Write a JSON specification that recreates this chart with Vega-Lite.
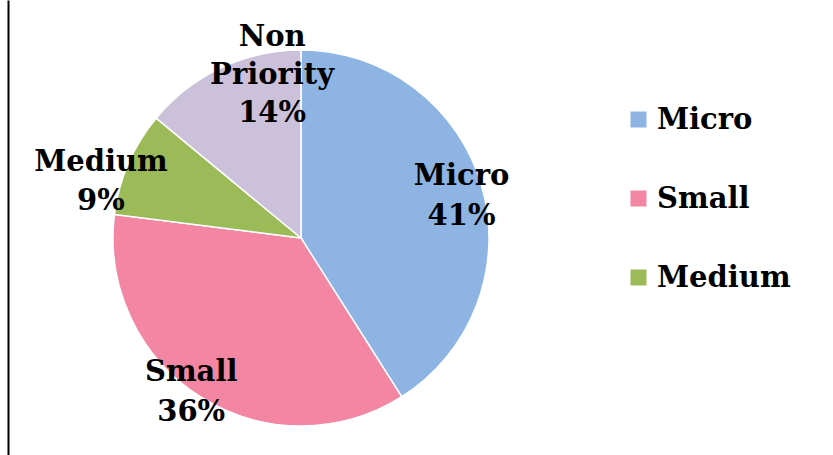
{
  "$schema": "https://vega.github.io/schema/vega-lite/v6.json",
  "width": 586,
  "height": 434,
  "autosize": {"type": "none"},
  "padding": {"left": 8, "top": 21, "right": 239, "bottom": 0},
  "background": "white",
  "data": {
    "values": [
      {"category": "Micro", "value": 41},
      {"category": "Small", "value": 36},
      {"category": "Medium", "value": 9},
      {"category": "Non Priority", "value": 14}
    ]
  },
  "transform": [
    {"calculate": "indexof(['Micro','Small','Medium','Non Priority'], datum.category)", "as": "ord"},
    {"stack": "value", "groupby": [], "sort": [{"field": "ord", "order": "ascending"}], "as": ["v0", "v1"]},
    {"calculate": "(datum.v0 + datum.v1) / 2", "as": "mid"},
    {"calculate": "replace(datum.category, ' ', '\\n') + '\\n' + datum.value + '%'", "as": "label"}
  ],
  "layer": [
    {
      "mark": {"type": "arc", "outerRadius": 188, "stroke": "white", "strokeWidth": 1.5},
      "encoding": {
        "theta": {"field": "v0", "type": "quantitative", "scale": {"domain": [0, 100]}},
        "theta2": {"field": "v1"},
        "color": {
          "field": "category",
          "type": "nominal",
          "scale": {
            "domain": ["Micro", "Small", "Medium", "Non Priority"],
            "range": ["#8EB4E3", "#F286A3", "#9BBB59", "#CCC1DA"]
          },
          "legend": {
            "values": ["Micro", "Small", "Medium"],
            "title": null,
            "orient": "none",
            "legendX": 616,
            "legendY": 84,
            "padding": 0,
            "symbolType": "square",
            "symbolSize": 256,
            "symbolStrokeWidth": 0,
            "labelFont": "DejaVu Serif",
            "labelFontWeight": "bold",
            "labelFontSize": 29,
            "labelColor": "black",
            "labelOffset": 4,
            "rowPadding": 49,
            "labelLimit": 300
          }
        }
      }
    },
    {
      "mark": {"type": "rule", "opacity": 0},
      "encoding": {
        "y": {
          "datum": 0,
          "type": "quantitative",
          "scale": {"domain": [0, 1], "range": [434, -21]},
          "axis": {"domain": true, "domainColor": "black", "domainWidth": 2, "ticks": false, "labels": false, "grid": false, "title": null}
        }
      }
    },
    {
      "transform": [{"filter": "datum.category === 'Micro'"}],
      "mark": {"type": "text", "radius": 172, "thetaOffset": -0.084, "font": "DejaVu Serif", "fontWeight": "bold", "fontSize": 29, "lineHeight": 40, "lineBreak": "\n", "align": "center", "baseline": "middle", "color": "black"},
      "encoding": {
        "theta": {"field": "mid", "type": "quantitative"},
        "text": {"field": "label"}
      }
    },
    {
      "transform": [{"filter": "datum.category === 'Small'"}],
      "mark": {"type": "text", "radius": 173, "thetaOffset": 0.122, "font": "DejaVu Serif", "fontWeight": "bold", "fontSize": 29, "lineHeight": 40, "lineBreak": "\n", "align": "center", "baseline": "middle", "color": "black"},
      "encoding": {
        "theta": {"field": "mid", "type": "quantitative"},
        "text": {"field": "label"}
      }
    },
    {
      "transform": [{"filter": "datum.category === 'Medium'"}],
      "mark": {"type": "text", "radius": 214, "thetaOffset": -0.045, "font": "DejaVu Serif", "fontWeight": "bold", "fontSize": 29, "lineHeight": 39, "lineBreak": "\n", "align": "center", "baseline": "middle", "color": "black"},
      "encoding": {
        "theta": {"field": "mid", "type": "quantitative"},
        "text": {"field": "label"}
      }
    },
    {
      "transform": [{"filter": "datum.category === 'Non Priority'"}],
      "mark": {"type": "text", "radius": 203, "thetaOffset": 0.297, "font": "DejaVu Serif", "fontWeight": "bold", "fontSize": 29, "lineHeight": 38, "lineBreak": "\n", "align": "center", "baseline": "middle", "color": "black"},
      "encoding": {
        "theta": {"field": "mid", "type": "quantitative"},
        "text": {"field": "label"}
      }
    }
  ],
  "config": {"view": {"stroke": null}}
}
